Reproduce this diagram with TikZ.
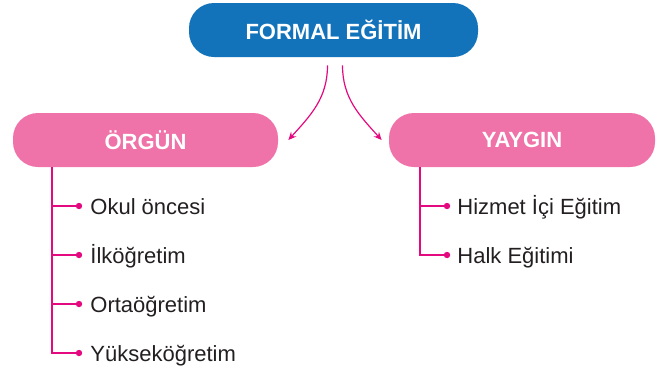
\documentclass[tikz,border=0pt]{standalone}
\usepackage{fontspec}
\setmainfont{Liberation Sans}
\usetikzlibrary{arrows.meta}

\definecolor{formalblue}{HTML}{1272BA}
\definecolor{boxpink}{HTML}{EF72A8}
\definecolor{linepink}{HTML}{E5097F}
\definecolor{itemtext}{HTML}{231F20}

\tikzset{
	bluebox/.style={fill=formalblue, rounded corners=12.5pt, minimum width=144.5pt, minimum height=27pt, text=white, font=\fontsize{11}{13}\selectfont\bfseries},
	pinkbox/.style={fill=boxpink, rounded corners=12.5pt, minimum width=133pt, minimum height=27pt, text=white, font=\fontsize{11}{13}\selectfont\bfseries},
	item/.style={anchor=base west, inner sep=0pt, text=itemtext, font=\fontsize{11}{13}\selectfont},
	branch/.style={draw=linepink, line width=0.7pt},
	curvearrow/.style={draw=linepink, line width=0.6pt, -{Stealth[length=4pt, width=3.6pt, inset=1.4pt]}},
	itemdot/.style={fill=linepink}
}

\begin{document}
\begin{tikzpicture}[x=0.5pt, y=-0.5pt]
	\useasboundingbox (0,0) rectangle (662,370);
	
	\node[bluebox] (formal) at (333.5,30) {FORMAL EĞİTİM};
	\node[pinkbox, minimum width=132.5pt] (orgun) at (145.5,140) {ÖRGÜN};
	\node[pinkbox] (yaygin) at (522,140) {YAYGIN};
	
	\draw[curvearrow] ([xshift=-3pt, yshift=-4pt]formal.south) to[out=-90, in=48] ([xshift=5pt]orgun.east);
	\draw[curvearrow] ([xshift=4.5pt, yshift=-4pt]formal.south) to[out=-90, in=132] ([xshift=-3.5pt]yaygin.west);
	
	% orgun
	\coordinate (ospine) at (52,167);
	\coordinate (okuldot) at (79,206);
	\coordinate (ilkdot) at (79,255);
	\coordinate (ortadot) at (79,304);
	\coordinate (yuksekdot) at (79,353);
	\draw[branch] (ospine) |- (okuldot);
	\draw[branch] (ospine) |- (ilkdot);
	\draw[branch] (ospine) |- (ortadot);
	\draw[branch] (ospine) |- (yuksekdot);
	\fill[itemdot] (okuldot) circle (1.6pt);
	\fill[itemdot] (ilkdot) circle (1.6pt);
	\fill[itemdot] (ortadot) circle (1.6pt);
	\fill[itemdot] (yuksekdot) circle (1.6pt);
	\node[item] (okul) at (90,214) {Okul öncesi};
	\node[item] (ilk) at (90,263) {İlköğretim};
	\node[item] (orta) at (90,312) {Ortaöğretim};
	\node[item] (yuksek) at (90,361) {Yükseköğretim};
	
	% yaygin
	\coordinate (yspine) at (420,167);
	\coordinate (hizmetdot) at (447,206);
	\coordinate (halkdot) at (447,255);
	\draw[branch] (yspine) |- (hizmetdot);
	\draw[branch] (yspine) |- (halkdot);
	\fill[itemdot] (hizmetdot) circle (1.6pt);
	\fill[itemdot] (halkdot) circle (1.6pt);
	\node[item] (hizmet) at (457,214) {Hizmet İçi Eğitim};
	\node[item] (halk) at (457,263) {Halk Eğitimi};
\end{tikzpicture}
\end{document}
